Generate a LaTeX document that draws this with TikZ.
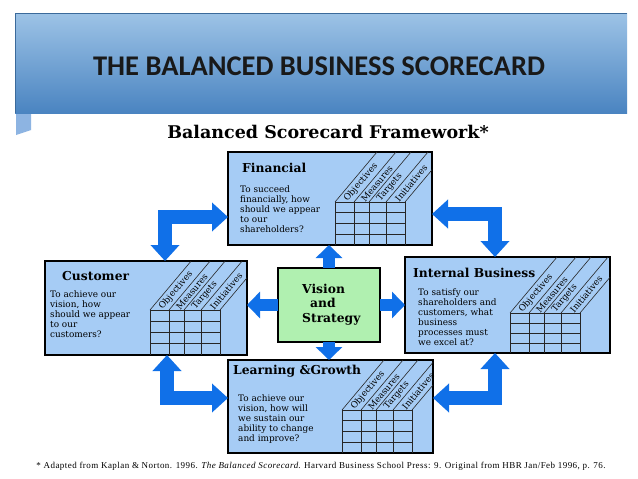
\documentclass[tikz,border=0pt]{standalone}
\usepackage{fontspec}
\setmainfont{DejaVu Serif}
\newfontfamily\titlefont{Carlito}
\newfontfamily\footfont[LetterSpace=5]{Liberation Serif}
\usetikzlibrary{arrows.meta,calc}
\definecolor{boxblue}{RGB}{166,204,245}
\definecolor{arrowblue}{RGB}{16,112,232}
\definecolor{visgreen}{RGB}{176,240,176}
\definecolor{headtop}{RGB}{157,195,230}
\definecolor{headbot}{RGB}{74,132,193}
\definecolor{tabblue}{RGB}{141,180,226}
\tikzset{
  pbox/.style={draw=black, line width=2.6pt, fill=boxblue, inner sep=0pt, outer sep=0pt, anchor=north west},
  vbox/.style={draw=black, line width=2.6pt, fill=visgreen, inner sep=0pt, outer sep=0pt, anchor=north west},
  ptitle/.style={font=\bfseries\fontsize{12.3}{14}\selectfont, anchor=base west, inner sep=0pt},
  pbody/.style={font=\fontsize{8.9}{9.9}\selectfont, align=left, anchor=north west, inner sep=0pt},
  lbl/.style={font=\fontsize{8.8}{10}\selectfont, inner sep=0pt, anchor=west, rotate=50},
  gridline/.style={draw=black!85, line width=0.6pt},
  sarrow/.style={draw=arrowblue, line width=12pt, -{Triangle[width=26pt,length=13pt]}},
  earrow/.style={draw=arrowblue, line width=14pt, line join=miter, {Triangle[width=28pt,length=16pt]}-{Triangle[width=28pt,length=16pt]}},
}
\newcommand\scgrid[5]{%
  \begin{scope}
    \clip (#5.north west) rectangle (#5.south east);
    \foreach \c in {0,19,34,51,70}{
      \draw[gridline] (#1+\c,#2) -- (#1+\c,#3);
      \draw[gridline] (#1+\c,#2) -- ++({0.84*(#2-#4)},{-(#2-#4)});
    }
    \draw[gridline] (#1,#2) -- (#1+70,#2);
    \foreach \r in {1,2,3}{
      \draw[gridline] (#1,{#2+\r*(#3-#2)/4}) -- (#1+70,{#2+\r*(#3-#2)/4});
    }
  \end{scope}
  \foreach \c/\w/\t in {0/19/Objectives,19/15/Measures,34/17/Targets,51/19/Initiatives}{
    \node[lbl] at ({#1+\c+\w/2+0.84*1.5},{#2-1.5}) {\t};
  }
}
\begin{document}
\begin{tikzpicture}[x=1pt,y=-1pt]
\useasboundingbox[fill=white] (0,0) rectangle (638,479);
% header
\fill[tabblue] (16,113) -- (31,113) -- (31,130) -- (16,135) -- cycle;
\shade[top color=headtop, bottom color=headbot] (15,13) rectangle (627,113);
\draw[headbot!80!black, line width=0.6pt] (15,113) -- (15,13) -- (627,13);
\node[font=\titlefont\bfseries\fontsize{28.5}{32}\selectfont, text=black!90] (title) at (319,66) {THE BALANCED BUSINESS SCORECARD};
\node[font=\bfseries\fontsize{17.5}{20}\selectfont, anchor=base] (frame) at (328,138) {Balanced Scorecard Framework*};

% boxes
\node[pbox, minimum width=204pt, minimum height=93pt] (fin) at (228,152) {};
\node[pbox, minimum width=202pt, minimum height=94pt] (cus) at (45,261) {};
\node[pbox, minimum width=205pt, minimum height=96pt] (int) at (405,257) {};
\node[pbox, minimum width=205pt, minimum height=93pt] (lea) at (228,360) {};
\node[vbox, minimum width=102pt, minimum height=74pt] (vis) at (278,268) {};

% grids
\scgrid{335}{202}{245}{152}{fin}
\scgrid{150}{310}{355}{261}{cus}
\scgrid{510}{313}{353}{257}{int}
\scgrid{342}{410}{453}{360}{lea}

% titles
\node[ptitle] (fint) at (242,172) {Financial};
\node[ptitle] (cust) at (62,280) {Customer};
\node[ptitle] (intt) at (413,277) {Internal Business};
\node[ptitle] (leat) at (233,374) {Learning \&Growth};

% bodies
\node[pbody] (finb) at (240,186) {To succeed\\financially, how\\should we appear\\to our\\shareholders?};
\node[pbody] (cusb) at (50,291) {To achieve our\\vision, how\\should we appear\\to our\\customers?};
\node[pbody] (intb) at (418,289) {To satisfy our\\shareholders and\\customers, what\\business\\processes must\\we excel at?};
\node[pbody] (leab) at (238,395) {To achieve our\\vision, how will\\we sustain our\\ability to change\\and improve?};

% vision text
\node[font=\bfseries\fontsize{12.3}{14}\selectfont, anchor=base west, inner sep=0pt] (v1) at (302,293) {Vision};
\node[font=\bfseries\fontsize{12.3}{14}\selectfont, anchor=base west, inner sep=0pt] (v2) at (310,307) {and};
\node[font=\bfseries\fontsize{12.3}{14}\selectfont, anchor=base west, inner sep=0pt] (v3) at (302,322) {Strategy};

% straight arrows
\draw[sarrow] (vis.north) -- (vis.north |- fin.south);
\draw[sarrow] (vis.south) -- (vis.south |- lea.north);
\draw[sarrow] (vis.west) -- (vis.west -| cus.east);
\draw[sarrow] (vis.east) -- (vis.east -| int.west);

% elbow arrows
\draw[earrow] ([xshift=19pt]cus.north) |- ([yshift=-18.5pt]fin.west);
\draw[earrow] ([yshift=-15.5pt]fin.east) -| ([xshift=-12.5pt]int.north);
\draw[earrow] ([xshift=21pt]cus.south) |- ([yshift=8.5pt]lea.west);
\draw[earrow] ([xshift=-12.5pt]int.south) |- ([yshift=8.5pt]lea.east);

% footnote
\node[font=\footfont\fontsize{9}{10}\selectfont, anchor=base] (note) at (321,468) {* Adapted from Kaplan \& Norton. 1996. \textit{The Balanced Scorecard}. Harvard Business School Press: 9. Original from HBR Jan/Feb 1996, p. 76.};
\end{tikzpicture}
\end{document}
